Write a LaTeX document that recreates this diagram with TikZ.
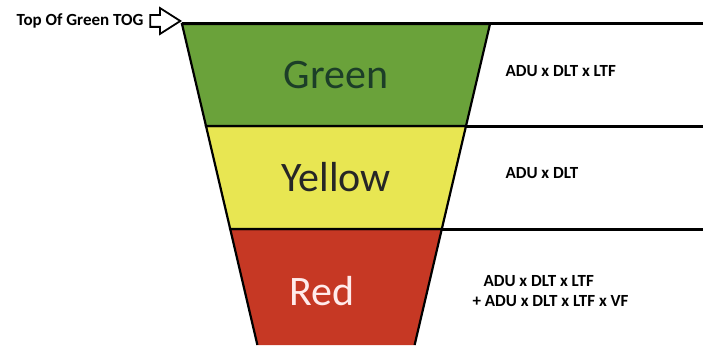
\documentclass[tikz,border=0pt]{standalone}
\usepackage{fontspec}
\setmainfont{Carlito}
\usetikzlibrary{shapes.arrows}
\definecolor{bandgreen}{RGB}{106,162,58}
\definecolor{bandyellow}{RGB}{232,230,82}
\definecolor{bandred}{RGB}{198,56,36}
\definecolor{greentext}{RGB}{28,62,40}

\begin{document}
\begin{tikzpicture}[x=1pt, y=-1pt,
  band/.style={draw=black, line width=2.2pt, line join=miter},
  level/.style={font=\fontsize{42}{44}\selectfont},
  formula/.style={anchor=west, font=\bfseries\fontsize{17}{20}\selectfont},
  rule/.style={line width=3pt},
]
\useasboundingbox (0,0) rectangle (703,345);

% funnel bands
\fill[bandred] (230.2,229) -- (441.8,229) -- (414.6,345) -- (257.4,345) -- cycle;
\draw[band] (257.4,345) -- (230.2,229) -- (441.8,229) -- (414.6,345);
\draw[band, fill=bandyellow] (206,126) -- (466,126) -- (441.8,229) -- (230.2,229) -- cycle;
\draw[band, fill=bandgreen] (182,24) -- (490,24) -- (466,126) -- (206,126) -- cycle;

% rules to the right
\draw[rule] (182,24) -- (703,24);
\draw[rule] (466,126) -- (703,126);
\draw[rule] (441.8,229) -- (703,229);

\node[level, text=greentext] (green) at (336,75) {Green};
\node[level, text=black!85] (yellow) at (336,177) {Yellow};
\node[level, text=white!92!red] (red) at (322,291) {Red};

\node[formula] (fgreen) at (502,71) {ADU x DLT x LTF};
\node[formula] (fyellow) at (502,173) {ADU x DLT};
\node[formula] (fred1) at (480,281) {ADU x DLT x LTF};
\node[formula] (fred2) at (469,301) {+ ADU x DLT x LTF x VF};

\node[single arrow, draw, fill=white, line width=1.8pt,
  inner xsep=0pt, inner ysep=5pt, minimum height=30pt,
  single arrow head extend=7pt, single arrow tip angle=65,
  anchor=tip] (togarrow) at (182,21) {};
\node[formula, anchor=east] (tog) at (147,21) {Top Of Green TOG};
\end{tikzpicture}
\end{document}
